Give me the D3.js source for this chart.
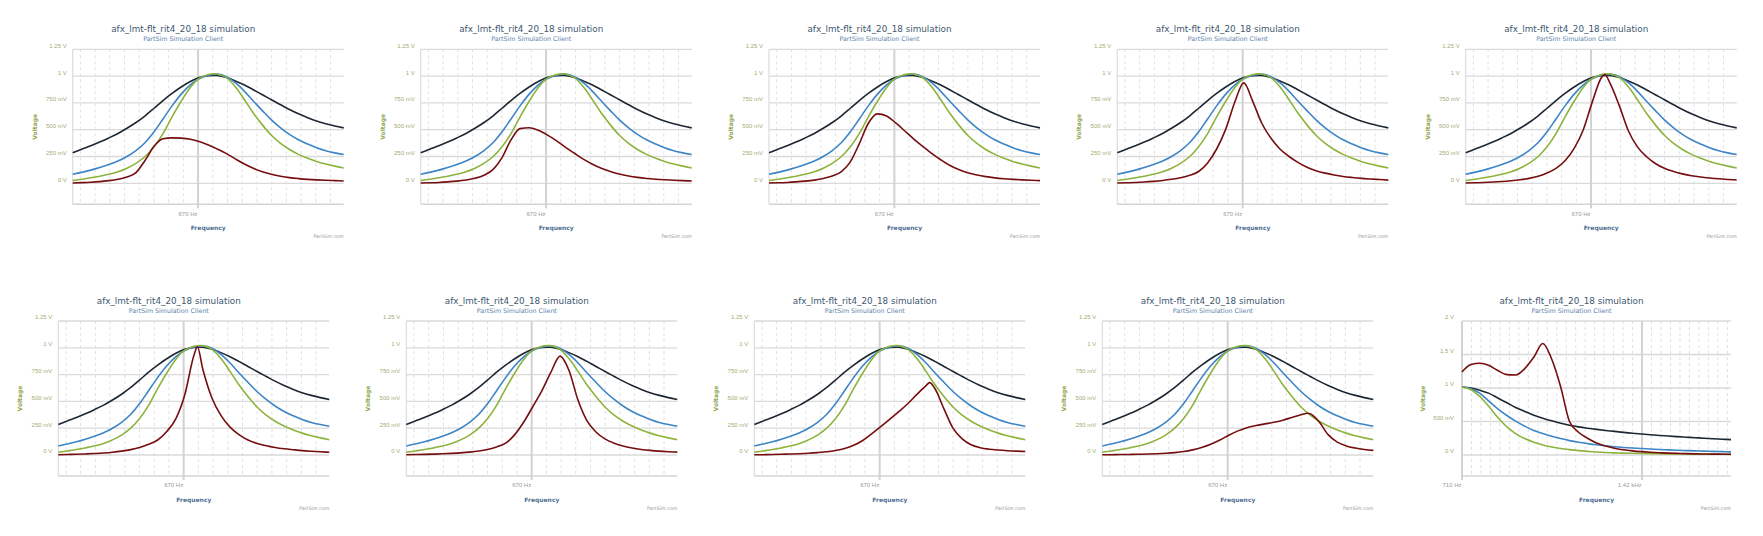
<!DOCTYPE html>
<meta charset="utf-8">
<style>
body { margin: 0; background: #fff; }
svg { display: block; font-family: "DejaVu Sans", sans-serif; }
.title { fill: #3e576f; font-size: 8.8px; }
.subtitle { fill: #5b7fa8; font-size: 6.3px; }
.ylab text { fill: #a5aa74; font-size: 6px; }
.xlab text { fill: #9a9a9a; font-size: 6px; }
.ytitle { fill: #8ea64e; font-size: 6px; font-weight: bold; }
.xtitle { fill: #4f6f92; font-size: 6px; font-weight: bold; }
.credit { fill: #999; font-size: 4.8px; }
.minor { stroke: #e0e0e0; stroke-dasharray: 3,3; }
.major { stroke: #d2d2d2; stroke-width: 2; }
.hgrid { stroke: #dadada; stroke-width: 1.3; }
.series { fill: none; stroke-width: 1.6; }
</style>
<body>
<svg width="1763" height="536"></svg>
<script src="https://cdn.jsdelivr.net/npm/d3@7"></script>
<script>

// frequency grid (Hz) for panels 1-9 and for panel 10
var freqA = [400, 415, 431, 447, 464, 482, 500, 519, 539, 559, 580, 602, 625, 649, 673, 699,
             725, 753, 781, 811, 841, 873, 906, 941, 976, 1013, 1052, 1091, 1133, 1176, 1220];
var freqB = [710, 735, 761, 788, 815, 844, 873, 904, 936, 969, 1003, 1038, 1074, 1112, 1151, 1192,
             1234, 1277, 1322, 1368, 1416, 1466, 1518, 1571, 1626, 1683, 1742, 1803, 1867, 1932, 2000];

// shared series of panels 1-9 (volts)
var blackA = [0.285, 0.318, 0.350, 0.385, 0.423, 0.465, 0.513, 0.567, 0.630, 0.700, 0.772, 0.838, 0.898, 0.949, 0.986, 1.003,
              1.005, 0.987, 0.955, 0.917, 0.873, 0.826, 0.779, 0.733, 0.689, 0.648, 0.612, 0.581, 0.556, 0.535, 0.517];
var blueA = [0.084, 0.102, 0.123, 0.147, 0.175, 0.208, 0.250, 0.305, 0.380, 0.480, 0.600, 0.722, 0.832, 0.918, 0.975, 1.008,
             1.018, 0.995, 0.938, 0.858, 0.768, 0.678, 0.592, 0.518, 0.457, 0.406, 0.366, 0.332, 0.304, 0.284, 0.268];
var greenA = [0.026, 0.038, 0.051, 0.066, 0.084, 0.108, 0.141, 0.186, 0.250, 0.340, 0.463, 0.619, 0.765, 0.894, 0.978, 1.015,
              1.020, 0.985, 0.900, 0.780, 0.655, 0.545, 0.448, 0.372, 0.315, 0.270, 0.234, 0.204, 0.180, 0.160, 0.143];

// red (limiter output) for panels 1-9
var red1 = [0.003, 0.006, 0.010, 0.016, 0.025, 0.038, 0.058, 0.100, 0.215, 0.345, 0.415, 0.424, 0.421, 0.411, 0.390, 0.358,
            0.320, 0.277, 0.228, 0.180, 0.140, 0.108, 0.084, 0.066, 0.053, 0.044, 0.037, 0.032, 0.028, 0.025, 0.022];
var red2 = [0.003, 0.005, 0.008, 0.013, 0.020, 0.031, 0.047, 0.075, 0.130, 0.240, 0.405, 0.510, 0.518, 0.494, 0.452, 0.398,
            0.338, 0.280, 0.225, 0.178, 0.140, 0.110, 0.086, 0.068, 0.055, 0.045, 0.038, 0.033, 0.029, 0.025, 0.022];
var red3 = [0.003, 0.005, 0.008, 0.013, 0.020, 0.030, 0.045, 0.068, 0.110, 0.200, 0.370, 0.560, 0.648, 0.628, 0.565, 0.490,
            0.415, 0.345, 0.280, 0.220, 0.168, 0.128, 0.098, 0.077, 0.062, 0.051, 0.043, 0.037, 0.032, 0.028, 0.025];
var red4 = [0.003, 0.005, 0.008, 0.012, 0.018, 0.026, 0.037, 0.052, 0.075, 0.110, 0.190, 0.320, 0.505, 0.760, 0.937, 0.760,
            0.560, 0.420, 0.320, 0.250, 0.195, 0.150, 0.118, 0.095, 0.078, 0.064, 0.054, 0.046, 0.040, 0.035, 0.030];
var red5 = [0.003, 0.005, 0.008, 0.012, 0.017, 0.024, 0.033, 0.046, 0.066, 0.096, 0.140, 0.210, 0.325, 0.500, 0.755, 0.985,
            0.930, 0.720, 0.490, 0.340, 0.250, 0.185, 0.140, 0.110, 0.088, 0.071, 0.059, 0.050, 0.042, 0.036, 0.031];
var red6 = [0.003, 0.005, 0.007, 0.010, 0.014, 0.019, 0.026, 0.036, 0.050, 0.070, 0.100, 0.140, 0.220, 0.340, 0.560, 0.930,
            0.800, 0.530, 0.370, 0.260, 0.190, 0.140, 0.108, 0.086, 0.070, 0.058, 0.049, 0.041, 0.035, 0.030, 0.026];
var red7 = [0.003, 0.004, 0.006, 0.008, 0.011, 0.015, 0.020, 0.027, 0.037, 0.052, 0.075, 0.110, 0.190, 0.310, 0.450, 0.600,
            0.770, 0.922, 0.790, 0.510, 0.320, 0.215, 0.150, 0.110, 0.083, 0.065, 0.052, 0.043, 0.036, 0.031, 0.027];
var red8 = [0.002, 0.003, 0.005, 0.007, 0.009, 0.012, 0.016, 0.022, 0.030, 0.042, 0.060, 0.090, 0.135, 0.200, 0.265, 0.335,
            0.405, 0.480, 0.565, 0.648, 0.620, 0.430, 0.250, 0.150, 0.095, 0.068, 0.054, 0.046, 0.040, 0.036, 0.033];
var red9 = [0.002, 0.003, 0.004, 0.005, 0.007, 0.009, 0.012, 0.016, 0.022, 0.032, 0.048, 0.070, 0.100, 0.140, 0.185, 0.225,
            0.255, 0.275, 0.290, 0.305, 0.325, 0.350, 0.375, 0.385, 0.310, 0.190, 0.120, 0.085, 0.065, 0.052, 0.043];
// extra peak points [Hz, V] that fall between grid frequencies
var redPeaks = [null, null, null, null, [709, 1.015], [709, 1.01], null, [823, 0.675], [932, 0.39]];

// panel 10
var blackB = [1.015, 1.000, 0.965, 0.920, 0.850, 0.780, 0.710, 0.650, 0.595, 0.550, 0.510, 0.475, 0.445, 0.420, 0.400, 0.382,
              0.366, 0.352, 0.338, 0.325, 0.313, 0.302, 0.292, 0.283, 0.274, 0.266, 0.258, 0.250, 0.243, 0.236, 0.230];
var blueB = [1.015, 0.990, 0.920, 0.800, 0.690, 0.590, 0.505, 0.430, 0.365, 0.320, 0.280, 0.245, 0.215, 0.190, 0.170, 0.152,
             0.137, 0.124, 0.113, 0.104, 0.096, 0.089, 0.082, 0.076, 0.071, 0.066, 0.062, 0.058, 0.054, 0.050, 0.047];
var greenB = [1.015, 0.975, 0.870, 0.720, 0.560, 0.420, 0.320, 0.245, 0.190, 0.150, 0.120, 0.097, 0.080, 0.065, 0.054, 0.045,
              0.038, 0.032, 0.028, 0.025, 0.022, 0.020, 0.018, 0.016, 0.015, 0.014, 0.013, 0.012, 0.011, 0.011, 0.010];
var redB = [1.240, 1.350, 1.370, 1.335, 1.260, 1.200, 1.195, 1.290, 1.460, 1.665, 1.430, 1.020, 0.500, 0.340, 0.250, 0.180,
            0.135, 0.100, 0.078, 0.062, 0.050, 0.041, 0.034, 0.028, 0.024, 0.020, 0.017, 0.015, 0.013, 0.012, 0.011];

// axis ticks / labels
var yTicksA = [0, 0.25, 0.5, 0.75, 1, 1.25];
var yLabelsA = ["0 V", "250 mV", "500 mV", "750 mV", "1 V", "1.25 V"];
var yTicksB = [0, 0.5, 1, 1.5, 2];
var yLabelsB = ["0 V", "500 mV", "1 V", "1.5 V", "2 V"];
var xTicksA = [670], xLabelsA = ["670 Hz"];
var xTicksB = [710, 1420], xLabelsB = ["710 Hz", "1.42 kHz"];

var titleText = "afx_lmt-flt_rit4_20_18 simulation";
var seriesColors = ["#1d2733", "#3d85c6", "#8db33c", "#760d0f"];

var svg = d3.select("svg");

var lefts = [72.7, 420.7, 769, 1117.3, 1465.7, 58.3, 406.3, 754.3, 1102.3, 1462];
var reds = [red1, red2, red3, red4, red5, red6, red7, red8, red9];

var H0 = 134, HB = 155;  // zero line and plot bottom below plot top

function pairs(f, v) { return f.map(function(d, i) { return [d, v[i]]; }); }

lefts.forEach(function(left, i) {
  var last = i == 9;
  var top = i < 5 ? 49.3 : 321;
  var w = last ? 269 : 271;
  var x = d3.scaleLog().domain(last ? [710, 2000] : [400, 1220]).range([0, w]);
  var y = d3.scaleLinear().domain([0, last ? 2 : 1.25]).range([H0, 0]);
  var minorRatio = last ? Math.pow(2, 1 / 19) : 1.0624;
  var major = last ? xTicksB : xTicksA;

  var g = svg.append("g").attr("transform", "translate(" + left + "," + top + ")");

  // minor dashed gridlines
  var minors = [];
  var dom = x.domain();
  for (var f = major[0] * minorRatio; f < dom[1]; f *= minorRatio) minors.push(f);
  for (var f = major[0] / minorRatio; f > dom[0]; f /= minorRatio) minors.push(f);
  g.selectAll(".minor").data(minors).enter().append("line")
    .attr("class", "minor")
    .attr("x1", d => x(d)).attr("x2", d => x(d))
    .attr("y1", 0).attr("y2", HB);

  // left edge + bottom line
  g.append("line").attr("x1", 0).attr("x2", 0).attr("y1", 0).attr("y2", HB)
    .attr("stroke", "#dcdcdc").attr("stroke-width", 1.2);
  g.append("line").attr("x1", 0).attr("x2", w).attr("y1", HB).attr("y2", HB)
    .attr("stroke", "#d4d4d4").attr("stroke-width", 1.5);

  // horizontal grid
  var yt = last ? yTicksB : yTicksA, yl = last ? yLabelsB : yLabelsA;
  g.selectAll(".hgrid").data(yt).enter().append("line")
    .attr("class", "hgrid")
    .attr("x1", 0).attr("x2", w)
    .attr("y1", d => y(d)).attr("y2", d => y(d));

  // major vertical grid
  g.selectAll(".major").data(major).enter().append("line")
    .attr("class", "major")
    .attr("x1", d => x(d)).attr("x2", d => x(d))
    .attr("y1", 0).attr("y2", HB + 4);

  // y axis labels
  var ya = g.append("g").attr("class", "ylab")
    .call(d3.axisLeft(y).tickValues(yt).tickFormat((d, k) => yl[k]).tickSize(0).tickPadding(last ? 8 : 6));
  ya.select(".domain").remove();
  ya.selectAll("text").attr("dy", "-0.35em");

  // x axis labels
  var xa = g.append("g").attr("class", "xlab").attr("transform", "translate(0," + HB + ")")
    .call(d3.axisBottom(x).tickValues(major).tickFormat((d, k) => (last ? xLabelsB : xLabelsA)[k]).tickSize(0).tickPadding(7.2));
  xa.select(".domain").remove();
  xa.selectAll("text").attr("text-anchor", "end").attr("dx", -1);

  // series
  var fr = last ? freqB : freqA;
  var sets;
  if (last) {
    sets = [blackB, blueB, greenB, redB].map(v => pairs(fr, v));
  } else {
    var r = pairs(fr, reds[i]);
    if (redPeaks[i]) { r.push(redPeaks[i]); r.sort((a, b) => a[0] - b[0]); }
    sets = [pairs(fr, blackA), pairs(fr, blueA), pairs(fr, greenA), r];
  }
  var smooth = d3.line().x(d => x(d[0])).y(d => y(d[1])).curve(d3.curveCatmullRom.alpha(0.5));
  var sharp = d3.line().x(d => x(d[0])).y(d => y(d[1])).curve(d3.curveMonotoneX);
  g.selectAll(".series").data(sets).enter().append("path")
    .attr("class", "series")
    .attr("stroke", (d, k) => seriesColors[k])
    .attr("d", (d, k) => (k == 3 ? sharp : smooth)(d));

  // texts
  g.append("text").attr("class", "title").attr("text-anchor", "middle")
    .attr("x", w / 2 - 25).attr("y", -17).text(titleText);
  g.append("text").attr("class", "subtitle").attr("text-anchor", "middle")
    .attr("x", w / 2 - 25).attr("y", -8.5).text("PartSim Simulation Client");
  g.append("text").attr("class", "ytitle").attr("text-anchor", "middle")
    .attr("transform", "translate(" + (last ? -39 : -38) + "," + (HB / 2) + ") rotate(-90)")
    .attr("dy", "0.35em").text("Voltage");
  g.append("text").attr("class", "xtitle").attr("text-anchor", "middle")
    .attr("x", w / 2).attr("y", HB + 25.5).text("Frequency");
  g.append("text").attr("class", "credit").attr("text-anchor", "end")
    .attr("x", w).attr("y", HB + 33.5).text("PartSim.com");
});

</script>
</body>
